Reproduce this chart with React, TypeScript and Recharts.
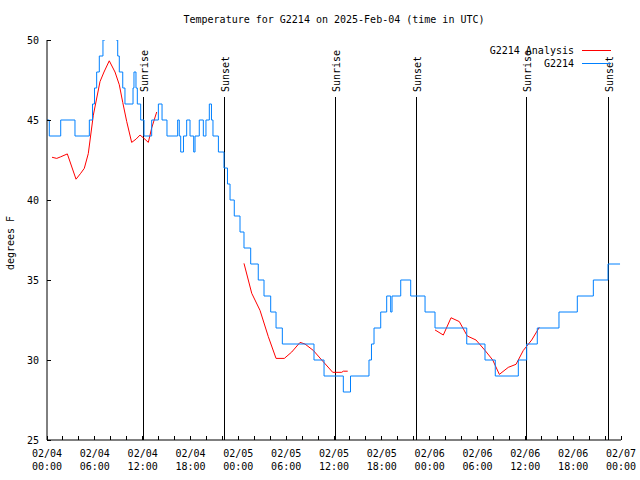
import { Legend, Line, LineChart, ReferenceLine, XAxis, YAxis } from 'recharts';

const FONT = '"DejaVu Sans Mono", monospace';

// hours since 02/04 00:00 UTC
const blueHours = [
  0, 0.29, 1.72, 3.51, 5.31, 5.71, 5.96, 6.23, 6.56, 7.02, 7.28, 8.66, 8.87, 9.07, 9.5, 9.78, 10.79, 10.91,
  11.16, 11.33, 11.75, 12.17, 13.13, 13.97, 14.43, 15.05, 16.39, 16.59, 16.77, 17.12, 17.52, 17.94, 18.4,
  18.57, 19.1, 19.61, 19.94, 20.36, 20.63, 20.82, 21.5, 22.2, 22.64, 22.96, 23.49, 24.21, 24.71, 25.55,
  26.5, 27.22, 28.06, 28.73, 29.52, 33.49, 34.75, 37.17, 38.07, 40.39, 40.7, 41.02, 41.86, 42.61, 43.11,
  43.28, 44.37, 45.62, 47.42, 48.67, 52.65, 54.94, 56.23, 59.12, 60.17, 61.5, 64.22, 66.52, 68.53, 70.37,
  71.88,
];
const blueTemps = [
  45, 44, 45, 44, 45, 46, 47, 48, 49, 50, 51, 50, 49, 48, 47, 46, 47, 48,
  47, 46, 45, 44, 45, 46, 45, 44, 45, 44, 43, 44, 45, 44, 43,
  44, 45, 44, 45, 46, 45, 44, 43, 42, 41, 40, 39, 38, 37, 36,
  35, 34, 33, 32, 31, 30, 29, 28, 29, 30, 31, 32, 33, 34, 33,
  34, 35, 34, 33, 32, 31, 30, 29, 30, 31, 32, 33, 34, 35, 36,
  36,
];

const redHours = [
  0.63, 1.22, 1.72, 2.55, 3.64, 4.23, 4.68, 5.18, 5.81, 6.65, 7.15, 7.81, 8.53, 9.07, 9.5, 10.0, 10.62,
  11.16, 11.67, 12.17, 12.71, 13.13, 13.76, 19,
  24.71, 25.68, 26.72, 27.76, 28.73, 29.77, 30.7, 31.74, 32.36, 33.4, 34.46, 35.84, 36.97, 37.17, 37.72, 42,
  48.67, 49.71, 50.68, 51.72, 52.72, 53.81, 54.94, 55.91, 56.74, 57.86, 58.83, 59.75, 60.8, 61.75,
];
const redTemps = [
  42.67, 42.6, 42.7, 42.88, 41.3, 41.67, 41.98, 42.9, 45.3, 47.4, 48.0, 48.7, 48.0, 47.2, 46.1, 44.9, 43.6,
  43.8, 44.06, 43.85, 43.6, 44.5, 45.5, null,
  36.04, 34.17, 33.1, 31.46, 30.1, 30.1, 30.5, 31.1, 31.0, 30.6, 30.0, 29.23, 29.23, 29.3, 29.3, null,
  31.88, 31.56, 32.64, 32.4, 31.5, 31.25, 30.6, 30.0, 29.1, 29.54, 29.73, 30.6, 31.25, 32.04,
];

const sunHours = [12.08, 22.25, 36.17, 46.3, 60.1, 70.4];
const sunLabels = ['Sunrise', 'Sunset', 'Sunrise', 'Sunset', 'Sunrise', 'Sunset'];

const seriesNames = ['G2214 Analysis', 'G2214'];

const xTicks = Array.from({ length: 37 }, (_, i) => i * 2);
const labelHours = [0, 6, 12, 18, 24, 30, 36, 42, 48, 54, 60, 66, 72];
const dateLabels = ['02/04', '02/04', '02/04', '02/04', '02/05', '02/05', '02/05', '02/05', '02/06', '02/06', '02/06', '02/06', '02/07'];
const timeLabels = ['00:00', '06:00', '12:00', '18:00', '00:00', '06:00', '12:00', '18:00', '00:00', '06:00', '12:00', '18:00', '00:00'];
const yTicks = [25, 30, 35, 40, 45, 50];

const blueData = blueHours.map((t, i) => ({ t, v: blueTemps[i] }));
const redData = redHours.map((t, i) => ({ t, v: redTemps[i] }));

const textStyle = { fontFamily: FONT, fontSize: 10, fill: '#000' };

function BottomTick({ x, y, payload }: any) {
  const i = labelHours.indexOf(payload.value);
  return (
    <g>
      <line x1={x} x2={x} y1={y} y2={y - 4} stroke="#000" shapeRendering="crispEdges" />
      {i >= 0 && (
        <>
          <text x={x} y={y + 17} textAnchor="middle" style={textStyle}>{dateLabels[i]}</text>
          <text x={x} y={y + 30} textAnchor="middle" style={textStyle}>{timeLabels[i]}</text>
        </>
      )}
    </g>
  );
}

function TopTick({ x, y }: any) {
  return <line x1={x} x2={x} y1={y} y2={y + 4} stroke="#000" shapeRendering="crispEdges" />;
}

function LeftTick({ x, y, payload }: any) {
  return (
    <g>
      <line x1={x} x2={x + 4} y1={y} y2={y} stroke="#000" shapeRendering="crispEdges" />
      <text x={x - 8} y={y + 3.5} textAnchor="end" style={textStyle}>{payload.value}</text>
    </g>
  );
}

function RightTick({ x, y }: any) {
  return <line x1={x - 4} x2={x} y1={y} y2={y} stroke="#000" shapeRendering="crispEdges" />;
}

const sunShape = (label: string) => (props: any) => {
  const x = props.x1;
  const top = Math.min(props.y1, props.y2);
  const bottom = Math.max(props.y1, props.y2);
  return (
    <g>
      <line x1={x} x2={x} y1={top + 57} y2={bottom} stroke="#000" shapeRendering="crispEdges" />
      <text
        x={x + 5}
        y={top + 52}
        transform={`rotate(-90 ${x + 5} ${top + 52})`}
        textAnchor="start"
        style={textStyle}
      >
        {label}
      </text>
    </g>
  );
};

function renderLegend({ payload }: any) {
  const items = [...(payload || [])].sort(
    (a: any, b: any) => seriesNames.indexOf(a.value) - seriesNames.indexOf(b.value),
  );
  return (
    <div style={{ fontFamily: FONT, fontSize: 10 }}>
      {items.map((p: any) => (
        <div key={p.value} style={{ display: 'flex', justifyContent: 'flex-end', alignItems: 'center', height: 13 }}>
          <span style={{ whiteSpace: 'nowrap' }}>{p.value}</span>
          <svg width={38} height={13}>
            <line x1={8} x2={37} y1={6.5} y2={6.5} stroke={p.color} />
          </svg>
        </div>
      ))}
    </div>
  );
}

export default function App() {
  return (
    <div style={{ position: 'absolute', left: 0, top: 0, width: 640, height: 480, background: '#fff' }}>
      <div
        style={{
          position: 'absolute', left: 47, top: 14, width: 574, textAlign: 'center',
          fontFamily: FONT, fontSize: 10, lineHeight: '12px', zIndex: 2,
        }}
      >
        Temperature for G2214 on 2025-Feb-04 (time in UTC)
      </div>
      <div
        style={{
          position: 'absolute', left: -25.5, top: 237, width: 72, height: 12, textAlign: 'center',
          fontFamily: FONT, fontSize: 10, lineHeight: '12px', whiteSpace: 'nowrap',
          transform: 'rotate(-90deg)', zIndex: 2,
        }}
      >
        degrees F
      </div>
      <LineChart width={640} height={480} margin={{ top: 40, right: 19, bottom: 0, left: 0 }}>
        <XAxis
          type="number"
          dataKey="t"
          domain={[0, 72]}
          ticks={xTicks}
          interval={0}
          allowDataOverflow
          height={40}
          tickSize={0}
          tickMargin={0}
          tickLine={false}
          axisLine={{ stroke: '#000' }}
          tick={<BottomTick />}
        />
        <XAxis
          xAxisId="top"
          orientation="top"
          type="number"
          dataKey="t"
          domain={[0, 72]}
          ticks={xTicks}
          interval={0}
          height={0}
          tickSize={0}
          tickMargin={0}
          tickLine={false}
          axisLine={{ stroke: '#000' }}
          tick={<TopTick />}
        />
        <YAxis
          domain={[25, 50]}
          ticks={yTicks}
          interval={0}
          allowDataOverflow
          width={47}
          tickSize={0}
          tickMargin={0}
          tickLine={false}
          axisLine={{ stroke: '#000' }}
          tick={<LeftTick />}
        />
        <YAxis
          yAxisId="right"
          orientation="right"
          domain={[25, 50]}
          ticks={yTicks}
          interval={0}
          width={0}
          tickSize={0}
          tickMargin={0}
          tickLine={false}
          axisLine={{ stroke: '#000' }}
          tick={<RightTick />}
        />
        {sunHours.map((h, i) => (
          <ReferenceLine key={i} x={h} stroke="#000" shape={sunShape(sunLabels[i])} />
        ))}
        <Line
          data={redData}
          dataKey="v"
          name={seriesNames[0]}
          type="linear"
          stroke="#ff0000"
          strokeWidth={1}
          dot={false}
          activeDot={false}
          connectNulls={false}
          isAnimationActive={false}
        />
        <Line
          data={blueData}
          dataKey="v"
          name={seriesNames[1]}
          type="stepAfter"
          stroke="#0080ff"
          strokeWidth={1}
          dot={false}
          activeDot={false}
          isAnimationActive={false}
        />
        <Legend
          layout="vertical"
          align="center"
          verticalAlign="middle"
          wrapperStyle={{ left: 440, top: 43.5, width: 172 }}
          content={renderLegend}
        />
      </LineChart>
    </div>
  );
}
